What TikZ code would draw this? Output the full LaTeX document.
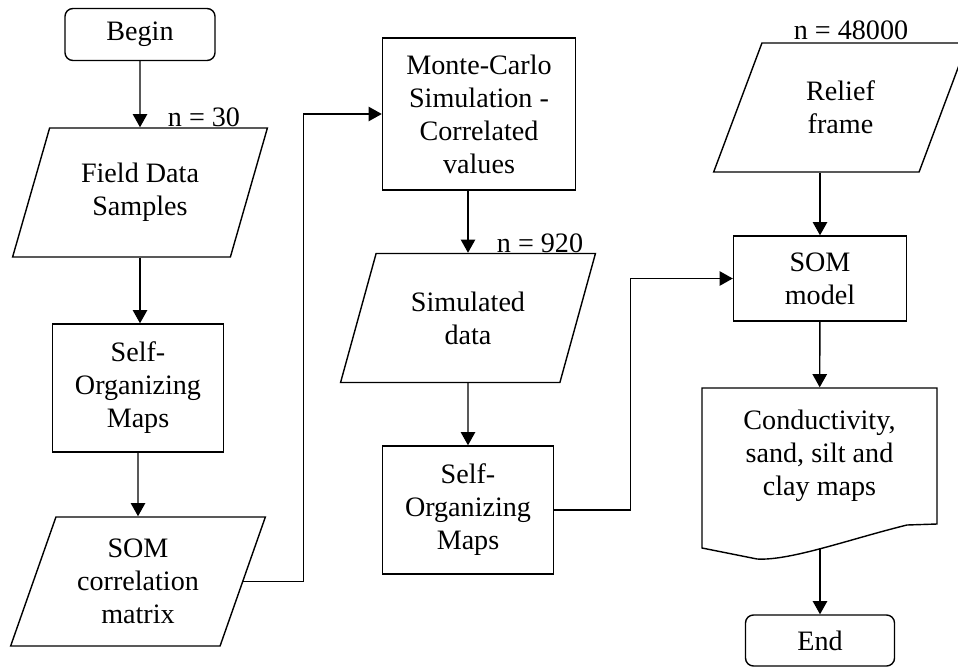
\documentclass[tikz,border=0pt]{standalone}
\usepackage{fontspec}
\setmainfont{Liberation Serif}
\usetikzlibrary{shapes.geometric,arrows.meta}
\begin{document}
\begin{tikzpicture}[x=0.025cm, y=0.025cm, font=\fontsize{20}{23.5}\selectfont, line width=1pt,
	term/.style={rectangle, rounded corners=0.2cm, draw, minimum width=3.75cm, minimum height=1.3cm},
	process/.style={rectangle, draw, align=center, minimum width=4.275cm, minimum height=3.2cm},
	data/.style={trapezium, trapezium left angle=69, trapezium right angle=111, trapezium stretches, draw, align=center, minimum width=6.375cm, minimum height=3.225cm},
	count/.style={inner sep=1pt},
	flow/.style={-{Triangle[length=0.33cm, width=0.36cm]}}]

		\useasboundingbox (0,0) rectangle (958,667);

		% first column
		\node[term] (begin) at (140,632.5) {Begin};
		\node[data] (field) at (140,474.5) {Field Data\\Samples};
		\node[process] (som1) at (138,279) {Self-\\Organizing\\Maps};
		\node[data] (corr) at (138,85.5) {SOM\\correlation\\matrix};

		% second column
		\node[process, minimum width=4.825cm, minimum height=3.8cm] (mc) at (479,553) {Monte-Carlo\\Simulation -\\Correlated\\values};
		\node[data] (sim) at (468,349) {Simulated\\data};
		\node[process] (som2) at (468,157) {Self-\\Organizing\\Maps};

		% third column
		\node[data] (relief) at (840.5,559.5) {Relief\\frame};
		\node[process, minimum width=4.325cm, minimum height=2.125cm] (model) at (820,388.5) {SOM\\model};
		\node[align=center, minimum width=5.875cm, minimum height=3.4cm] (maps) at (819.5,211) {Conductivity,\\sand, silt and\\clay maps};
		\draw (702,119) -- (702,279) -- (937,279) -- (937,143) -- (907,142)
			.. controls (850,128) and (790,106) .. (757,108) -- cycle;
		\coordinate (mapsout) at (820,119);
		\node[term, minimum width=3.725cm, minimum height=1.275cm] (end) at (820,26.5) {End};

		% sample sizes
		\node[count] (n30) at (204,550) {n = 30};
		\node[count] (n920) at (540,424) {n = 920};
		\node[count] (n48000) at (851,637) {n = 48000};

		\draw[flow] (begin) -- (field);
		\draw[flow] (field.south) -- (field.south |- som1.north);
		\draw[flow] (som1) -- (corr);
		\draw[flow] (corr.east) -- ++(60,0) |- (mc.west);

		\draw[flow] (sim.north |- mc.south) -- (sim.north);
		\draw[flow] (sim) -- (som2);
		\draw[flow] (som2.east) -- ++(76,0) |- (model.west);

		\draw[flow] (relief.south -| model.north) -- (model.north);
		\draw[flow] (model) -- (maps);
		\draw[flow] (mapsout) -- (end);

	\end{tikzpicture}
\end{document}
